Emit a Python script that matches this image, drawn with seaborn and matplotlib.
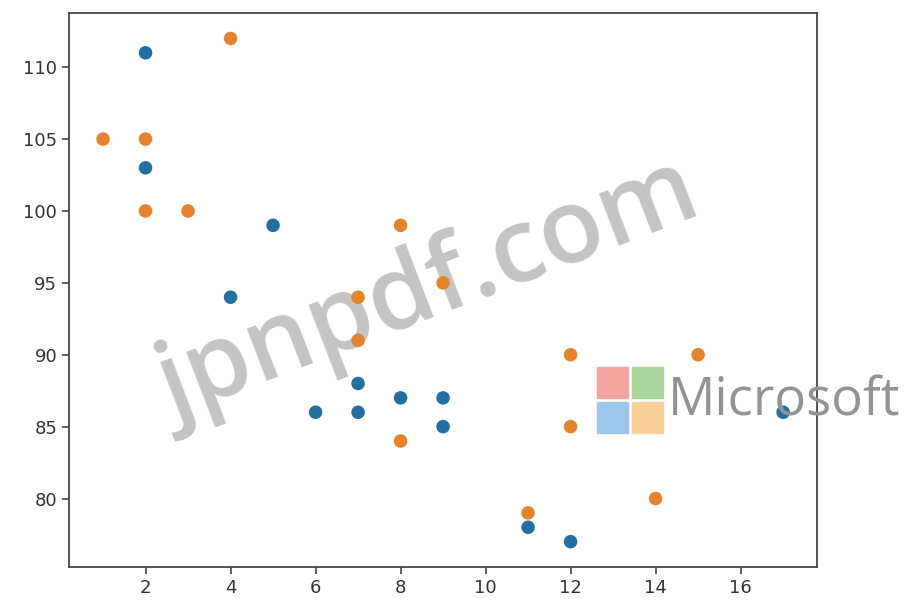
import matplotlib
matplotlib.use("Agg")
import matplotlib.pyplot as plt
from matplotlib.patches import Rectangle
import pandas as pd
import seaborn as sns

# First group of observations
x1 = [5, 7, 8, 7, 2, 17, 2, 9, 4, 11, 12, 9, 6]
y1 = [99, 86, 87, 88, 111, 86, 103, 87, 94, 78, 77, 85, 86]

# Second group of observations
x2 = [2, 2, 8, 1, 15, 8, 12, 9, 7, 3, 11, 4, 7, 14, 12]
y2 = [100, 105, 84, 105, 90, 99, 90, 95, 94, 100, 79, 112, 91, 80, 85]

series_names = ["first", "second"]
series_colors = ["#226fa2", "#e5832a"]
xticks = [2, 4, 6, 8, 10, 12, 14, 16]
yticks = [80, 85, 90, 95, 100, 105, 110]

df = pd.DataFrame({
    "x": x1 + x2,
    "y": y1 + y2,
    "series": [series_names[0]] * len(x1) + [series_names[1]] * len(x2),
})

fig = plt.figure(figsize=(9.13, 6.03), dpi=100)
ax = fig.add_axes([0.0756, 0.060, 0.8194, 0.918])

sns.scatterplot(data=df, x="x", y="y", hue="series", hue_order=series_names,
                palette=series_colors, s=95, linewidth=0, legend=False,
                ax=ax, zorder=3)

ax.set_xticks(xticks)
ax.set_yticks(yticks)
ax.set_xlim(0.2, 17.8)
ax.set_ylim(75.25, 113.75)
ax.set_xlabel("")
ax.set_ylabel("")
ax.tick_params(labelsize=13, colors="#333333", length=5, width=1.1)
for sp in ax.spines.values():
    sp.set_color("#444444")
    sp.set_linewidth(1.3)

# Overlaid site mark, beneath the points
ax.text(0.470, 0.515, "jpnpdf.com", fontsize=75, fontweight="semibold",
        color="#c4c4c4", rotation=21, ha="center", va="center",
        family="Open Sans", transform=fig.transFigure, zorder=1)

# Four-square logo and wordmark
W, H = 913, 603
squares = [(597, 367, "#f2a39f"), (632, 367, "#a9d49c"),
           (597, 402, "#9ec6ea"), (632, 402, "#fbd09a")]
for px, py, c in squares:
    fig.patches.append(Rectangle((px / W, 1 - (py + 31) / H), 31 / W, 31 / H,
                                 transform=fig.transFigure, color=c, zorder=6))
fig.text(668 / W, 1 - 402 / H, "Microsoft", fontsize=38, color="#939393",
         ha="left", va="center", family="Open Sans", zorder=6)

fig.savefig("out.png", dpi=100)
